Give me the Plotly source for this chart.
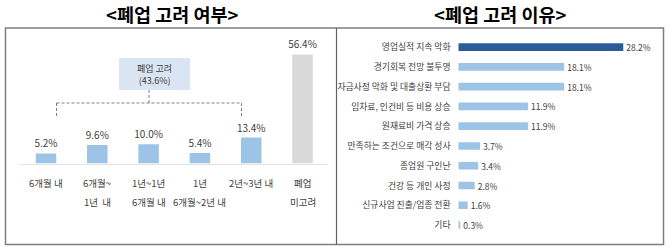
import plotly.graph_objects as go

# ---- data ----
left_line1 = ["6개월 내", "6개월~", "1년~1년", "1년", "2년~3년 내", "폐업"]
left_line2 = ["", "1년  내", "6개월 내", "6개월~2년 내", "", "미고려"]
left_values = [5.2, 9.6, 10.0, 5.4, 13.4, 56.4]
left_colors = ["#9dc3e6"] * 5 + ["#d9d9d9"]
consider_total = 43.6

right_cats = ["영업실적 지속 악화", "경기회복 전망 불투명", "자금사정 악화 및 대출상환 부담",
              "임차료, 인건비 등 비용 상승", "원재료비 가격 상승", "만족하는 조건으로 매각 성사",
              "종업원 구인난", "건강 등 개인 사정", "신규사업 진출/업종 전환", "기타"]
right_values = [28.2, 18.1, 18.1, 11.9, 11.9, 3.7, 3.4, 2.8, 1.6, 0.3]
right_colors = ["#2b5c97"] + ["#9dc3e6"] * 9

title_left = "&lt;폐업 고려 여부&gt;"
title_right = "&lt;폐업 고려 이유&gt;"

FONT = "Noto Sans CJK KR"
W, H = 670, 252


def px(x):
    return x / W


def py(y):
    return 1 - y / H


left_keys = [f"c{i}" for i in range(len(left_values))]

fig = go.Figure()
fig.add_trace(go.Bar(
    x=left_keys, y=left_values, marker=dict(color=left_colors, line=dict(width=0)),
    width=0.4, text=[f"{v:.1f}%" for v in left_values], textposition="outside",
    constraintext="none",
    textfont=dict(size=10, color="#404040", family=FONT), cliponaxis=False,
    xaxis="x", yaxis="y", hoverinfo="skip"))
fig.add_trace(go.Bar(
    x=right_values, y=right_cats, orientation="h",
    marker=dict(color=right_colors, line=dict(width=0)), width=0.39,
    text=[f"{v:.1f}%" for v in right_values], textposition="outside",
    constraintext="none",
    textfont=dict(size=8.5, color="#404040", family=FONT), cliponaxis=False,
    xaxis="x2", yaxis="y2", hoverinfo="skip"))

annotations = []
lab_font = dict(size=9.5, color="#404040", family=FONT)
for k, l1, l2 in zip(left_keys, left_line1, left_line2):
    annotations.append(dict(x=k, y=py(183), xref="x", yref="paper", text=l1,
                            xanchor="center", yanchor="middle",
                            showarrow=False, font=lab_font))
    if l2:
        annotations.append(dict(x=k, y=py(202), xref="x", yref="paper", text=l2,
                                xanchor="center", yanchor="middle",
                                showarrow=False, font=lab_font))

annotations.append(dict(x=px(154.5), y=py(74), xref="paper", yref="paper",
                        xanchor="center", yanchor="middle",
                        text=f"폐업 고려<br>({consider_total:.1f}%)", showarrow=False,
                        font=dict(size=9, color="#404040", family=FONT)))
annotations.append(dict(x=px(172), y=py(14), xref="paper", yref="paper", text=title_left,
                        xanchor="center", yanchor="middle",
                        showarrow=False, font=dict(size=18.5, color="#000000", family=FONT, weight="bold")))
annotations.append(dict(x=px(500), y=py(14), xref="paper", yref="paper", text=title_right,
                        xanchor="center", yanchor="middle",
                        showarrow=False, font=dict(size=18.5, color="#000000", family=FONT, weight="bold")))

dash = dict(color="#808080", width=1, dash="3px,2px")
shapes = [
    dict(type="rect", xref="paper", yref="paper", x0=px(5.5), x1=px(663.5), y0=py(28), y1=py(244.5),
         line=dict(color="#7f7f7f", width=1.5), fillcolor="rgba(0,0,0,0)"),
    dict(type="line", xref="paper", yref="paper", x0=px(336.5), x1=px(336.5), y0=py(28), y1=py(244.5),
         line=dict(color="#606060", width=1.2)),
    dict(type="rect", xref="paper", yref="paper", x0=px(119), x1=px(190), y0=py(58), y1=py(90),
         line=dict(width=0), fillcolor="#dae5f3", layer="below"),
    dict(type="line", xref="paper", yref="paper", x0=px(149), x1=px(149), y0=py(90), y1=py(103), line=dash),
    dict(type="line", xref="paper", yref="paper", x0=px(56.5), x1=px(241.5), y0=py(103), y1=py(103), line=dash),
    dict(type="line", xref="paper", yref="paper", x0=px(56.5), x1=px(56.5), y0=py(103), y1=py(117), line=dash),
    dict(type="line", xref="paper", yref="paper", x0=px(241.5), x1=px(241.5), y0=py(103), y1=py(117), line=dash),
]

fig.update_layout(
    width=W, height=H, margin=dict(l=0, r=0, t=0, b=0),
    paper_bgcolor="white", plot_bgcolor="rgba(0,0,0,0)",
    showlegend=False,
    font=dict(family=FONT, color="#404040"),
    xaxis=dict(domain=[px(20.35), px(328.2)], range=[-0.5, 5.5], showticklabels=False,
               showgrid=False, zeroline=False, showline=True, linecolor="#e3e3e3", linewidth=1,
               fixedrange=True),
    yaxis=dict(domain=[py(163.5), py(47.5)], range=[0, 60], visible=False, fixedrange=True),
    xaxis2=dict(domain=[px(458.3), px(633.8)], range=[0, 30], visible=False, fixedrange=True,
                anchor="y2"),
    yaxis2=dict(domain=[py(234.9), py(37.3)], range=[9.5, -0.5], anchor="x2",
                showgrid=False, zeroline=False, showline=False,
                ticks="outside", ticklen=5, tickcolor="rgba(0,0,0,0)",
                tickfont=dict(size=8.8, color="#404040", family=FONT), fixedrange=True),
    annotations=annotations, shapes=shapes,
)

fig.write_html("out.html")
